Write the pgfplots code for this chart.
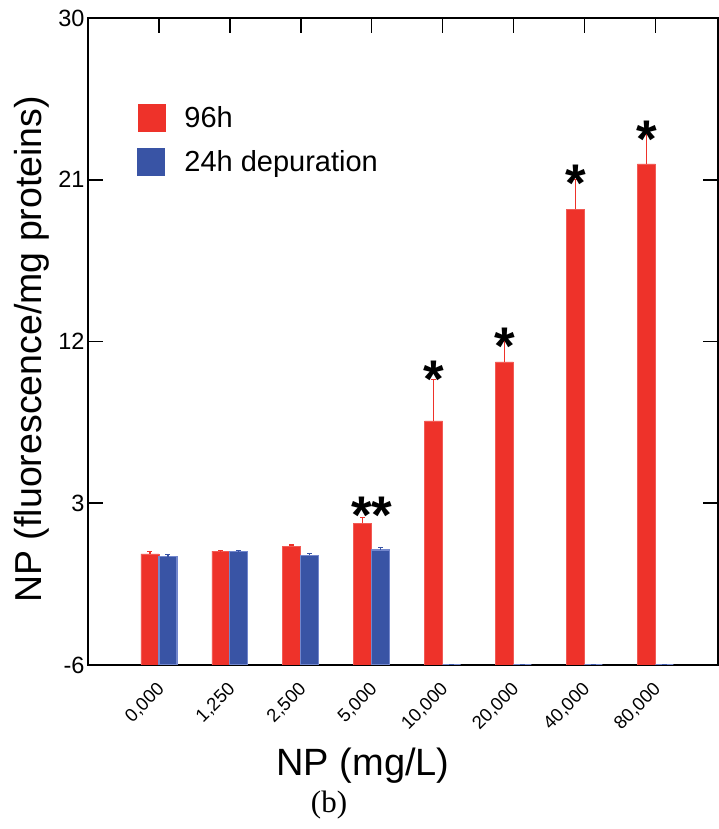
\documentclass[border=0pt]{standalone}
\usepackage{pgfplots}
\usepackage{pgfplotstable}
\pgfplotsset{compat=1.18}
\usepackage{fontspec}
\setmainfont{Liberation Sans}
\newfontfamily\seriffont{Liberation Serif}
\definecolor{cred}{RGB}{238,50,42}
\definecolor{cblue}{RGB}{57,84,165}
\definecolor{cbluel}{RGB}{115,135,205}
\pgfplotstableread{
x r re b be
0 0.18 0.12 0.03 0.11
1 0.33 0.02 0.33 0.03
2 0.61 0.07 0.10 0.11
3 1.88 0.34 0.40 0.13
4 7.58 2.30 -6 0
5 10.87 1.13 -6 0
6 19.35 1.65 -6 0
7 21.88 1.65 -6 0
}\data
\begin{document}
\begin{tikzpicture}
\useasboundingbox (0,0) rectangle (718pt,829pt);
\begin{axis}[
  at={(88pt,164pt)}, anchor=south west,
  scale only axis, width=630pt, height=647pt,
  ybar=0pt, bar width=18pt,
  xmin=-1, xmax=7.884, ymin=0, ymax=36,
  y filter/.expression={y+6},
  axis line style={line width=1.6pt, black},
  xtick={0,...,7},
  xticklabels={{0,000},{1,250},{2,500},{5,000},{10,000},{20,000},{40,000},{80,000}},
  xtick pos=upper, xticklabel pos=lower,
  ytick={0,9,18,27,36},
  yticklabels={-6,3,12,21,30},
  ytick pos=both, yticklabel pos=left,
  tick align=inside,
  major tick length=15pt,
  xtick style={line width=1.6pt, black},
  ytick style={line width=1.6pt, black},
  yticklabel style={font=\fontsize{23.5}{23.5}\selectfont},
  xticklabel style={font=\fontsize{18.5}{18.5}\selectfont, inner sep=0pt, xshift=-3pt, yshift=-16pt, rotate=45, anchor=north east},
  xlabel={NP (mg/L)},
  xlabel style={font=\fontsize{38}{38}\selectfont, at={(axis description cs:0.4365,-0.156)}, anchor=center},
  ylabel={NP (fluorescence/mg proteins)},
  ylabel style={font=\fontsize{37.5}{37.5}\selectfont, at={(axis description cs:-0.0889,0.488)}, anchor=center},
  legend style={draw=none, fill=none, inner sep=0pt, at={(axis description cs:0.0778,0.867)}, anchor=north west,
    font=\fontsize{29}{29}\selectfont, row sep=16pt, nodes={inner sep=0pt}},
  legend cell align=left,
]
\addplot[fill=cred, draw=cred!80!white, line width=0.6pt,
  legend image code/.code={\fill[cred] (0pt,-13.5pt) rectangle (27pt,13.5pt); \path (46pt,0pt);},
  error bars/.cd, y dir=plus, y explicit,
  error bar style={cred, line width=1.2pt},
  error mark options={cred, rotate=90, mark size=2.5pt, line width=1.2pt}]
  table[x=x, y=r, y error=re]{\data};
\addplot[fill=cblue, draw=cbluel, line width=1.2pt,
  legend image code/.code={\fill[cblue] (0pt,-13.5pt) rectangle (27pt,13.5pt); \path (46pt,0pt);},
  error bars/.cd, y dir=plus, y explicit,
  error bar style={cblue, line width=1.2pt},
  error mark options={cblue, rotate=90, mark size=2.5pt, line width=1.2pt}]
  table[x=x, y=b, y error=be]{\data};
\legend{96h, 24h depuration}
\node[font=\bfseries\fontsize{53}{53}\selectfont, anchor=base, inner sep=0pt, yshift=-21pt] at (axis cs:3, 8.51) {**};
\node[font=\bfseries\fontsize{53}{53}\selectfont, anchor=base, inner sep=0pt, yshift=-21pt] at (axis cs:3.873, 16.05) {*};
\node[font=\bfseries\fontsize{53}{53}\selectfont, anchor=base, inner sep=0pt, yshift=-21pt] at (axis cs:4.873, 17.9) {*};
\node[font=\bfseries\fontsize{53}{53}\selectfont, anchor=base, inner sep=0pt, yshift=-21pt] at (axis cs:5.873, 26.96) {*};
\node[font=\bfseries\fontsize{53}{53}\selectfont, anchor=base, inner sep=0pt, yshift=-21pt] at (axis cs:6.873, 29.43) {*};
\end{axis}
\node[font=\seriffont\fontsize{31}{31}\selectfont] at (329pt,24pt) {(b)};
\end{tikzpicture}
\end{document}
